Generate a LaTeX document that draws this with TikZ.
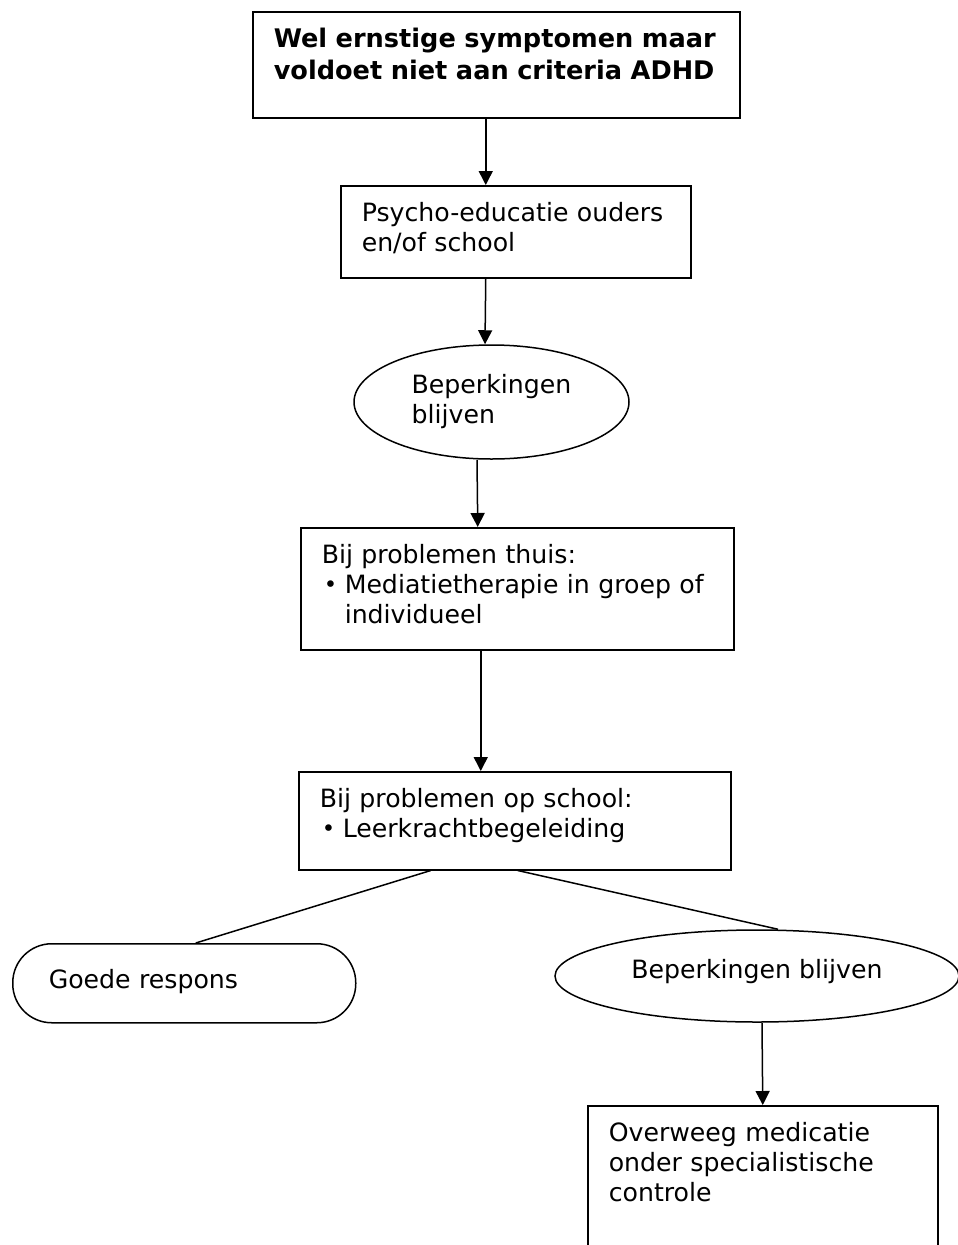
\documentclass[tikz,border=0pt]{standalone}
\usepackage{fontspec}
\setmainfont{DejaVu Sans}
\usetikzlibrary{arrows.meta,shapes.geometric}
\newcommand{\bul}{\makebox[23pt][l]{\hspace*{2pt}\raisebox{1pt}{\scalebox{0.9}{\textbullet}}}}
\newcommand{\hang}{\hspace*{23pt}}
\begin{document}
\begin{tikzpicture}[x=1pt,y=-1pt,
  block/.style={draw,line width=1.5pt,anchor=north west,inner xsep=21pt,inner ysep=0pt,align=left,text height=36pt,
    font=\fontsize{25.2pt}{30pt}\selectfont},
  oval/.style={draw,line width=1.5pt,ellipse,inner sep=0pt,align=left,font=\fontsize{25.2pt}{30pt}\selectfont},
  pill/.style={draw,line width=1.5pt,rounded corners=39pt,anchor=north west,inner xsep=36pt,inner ysep=0pt,align=left,
    font=\fontsize{25.2pt}{30pt}\selectfont},
  arr/.style={line width=1.5pt,-{Triangle[length=14pt,width=14pt]}},
  lin/.style={line width=1.5pt}
  ]
  \useasboundingbox (0,0) rectangle (958,1245);
  %
  % Nodes
  %
  \node(ernst) [block,text width=445pt,text depth=70pt,font=\fontsize{25.6pt}{32pt}\selectfont\bfseries] at (252,11)
    {Wel ernstige symptomen maar\\voldoet niet aan criteria ADHD};
  \node(psy)   [block,text width=308pt,text depth=56pt] at (340,185) {Psycho-educatie ouders\\en/of school};
  \node(beperk)[oval,minimum width=275pt,minimum height=114pt] at (491.5,402) {Beperkingen\\blijven};
  \node(thuis) [block,text width=391pt,text depth=86pt] at (300,527)
    {Bij problemen thuis:\\\bul Mediatietherapie in groep of\\\hang individueel};
  \node(school)[block,text width=390pt,text depth=62pt] at (298,771)
    {Bij problemen op school:\\\bul Leerkrachtbegeleiding};
  \node(goed)  [pill,text width=271pt,minimum height=79pt,text height=45pt,text depth=34pt] at (12,943) {Goede respons};
  \node(blijf) [oval,minimum width=404pt,minimum height=92pt,text height=20pt,text depth=16pt] at (757,976)
    {Beperkingen blijven};
  \node(medic) [block,text width=308pt,text depth=124pt] at (587,1105)
    {Overweeg medicatie\\onder specialistische\\controle};
  %
  % Arrows
  %
  % ernst -> psy
  \draw[arr] ([xshift=-10.5pt]ernst.south) -- ([xshift=-30pt]psy.north);
  % psy -> beperk
  \draw[arr] ([xshift=-30pt]psy.south) -- ([xshift=-6.5pt]beperk.north);
  % beperk -> thuis
  \draw[arr] ([xshift=-14.5pt]beperk.south) -- ([xshift=-39.5pt]thuis.north);
  % thuis -> school
  \draw[arr] ([xshift=-36.5pt]thuis.south) -- ([xshift=-34pt]school.north);
  % school -- goed
  \draw[lin] ([xshift=-84pt]school.south) -- ([xshift=11.5pt]goed.north);
  % school -- blijf
  \draw[lin] ([xshift=3pt]school.south) -- ([xshift=21pt]blijf.north);
  % blijf -> medic
  \draw[arr] ([xshift=5pt]blijf.south) -- (medic.north);
\end{tikzpicture}
\end{document}
